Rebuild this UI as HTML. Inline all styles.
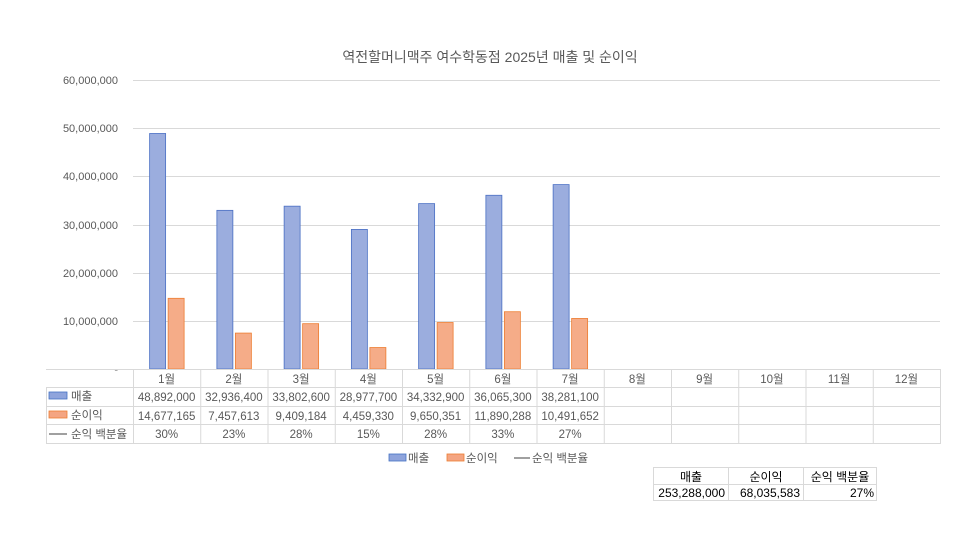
<!DOCTYPE html>
<html><head><meta charset="utf-8"><style>
body{margin:0;background:#fff;}
svg text{font-family:"Liberation Sans","Noto Sans CJK KR",sans-serif;}
</style></head><body>
<svg width="980" height="551" xmlns="http://www.w3.org/2000/svg">
<rect width="980" height="551" fill="#fff"/>
<text x="490" y="62" font-size="14" fill="#595959" text-anchor="middle">역전할머니맥주 여수학동점 2025년 매출 및 순이익</text>
<g stroke="#d9d9d9" stroke-width="1">
<line x1="133" y1="80.5" x2="940" y2="80.5"/>
<line x1="133" y1="128.5" x2="940" y2="128.5"/>
<line x1="133" y1="176.5" x2="940" y2="176.5"/>
<line x1="133" y1="225.5" x2="940" y2="225.5"/>
<line x1="133" y1="273.5" x2="940" y2="273.5"/>
<line x1="133" y1="321.5" x2="940" y2="321.5"/>
</g>
<g font-size="11" fill="#595959" text-anchor="end">
<text x="118" y="84">60,000,000</text>
<text x="118" y="132">50,000,000</text>
<text x="118" y="180">40,000,000</text>
<text x="118" y="229">30,000,000</text>
<text x="118" y="277">20,000,000</text>
<text x="118" y="325">10,000,000</text>
<text x="118" y="373">-</text>
</g>
<g id="bars"></g>
<g id="tbl" stroke="#d9d9d9" stroke-width="1" fill="none"></g>
<g id="txt" font-size="11.5" fill="#595959" text-anchor="middle"></g>
<g font-size="11.5" fill="#595959">
<rect x="49" y="392" width="18" height="7" fill="#8fa4dc" stroke="#4472c4" stroke-width="0.8"/>
<text x="71" y="400">매출</text>
<rect x="49" y="411" width="18" height="7" fill="#f4a582" stroke="#ed7d31" stroke-width="0.8"/>
<text x="71" y="419">순이익</text>
<line x1="49" y1="434" x2="67" y2="434" stroke="#808080" stroke-width="1.5"/>
<text x="71" y="438">순익 백분율</text>
<rect x="389" y="454" width="17" height="7" fill="#8fa4dc" stroke="#4472c4" stroke-width="0.8"/>
<text x="408" y="462">매출</text>
<rect x="447" y="454" width="17" height="7" fill="#f4a582" stroke="#ed7d31" stroke-width="0.8"/>
<text x="466" y="462">순이익</text>
<line x1="514" y1="458" x2="530" y2="458" stroke="#808080" stroke-width="1.5"/>
<text x="532" y="462">순익 백분율</text>
</g>
<g stroke="#d9d9d9" fill="none">
<rect x="653.5" y="467.5" width="223" height="33"/>
<line x1="653" y1="484.5" x2="877" y2="484.5"/>
<line x1="728.5" y1="467" x2="728.5" y2="501"/>
<line x1="803.5" y1="467" x2="803.5" y2="501"/>
</g>
<g font-size="12" fill="#000">
<text x="691" y="481" text-anchor="middle">매출</text>
<text x="766" y="481" text-anchor="middle">순이익</text>
<text x="840" y="481" text-anchor="middle">순익 백분율</text>
<text x="725" y="497" text-anchor="end">253,288,000</text>
<text x="800" y="497" text-anchor="end">68,035,583</text>
<text x="874" y="497" text-anchor="end">27%</text>
</g>
<script>
var s=[48892000,32936400,33802600,28977700,34332900,36065300,38281100];
var p=[14677165,7457613,9409184,4459330,9650351,11890288,10491652];
var pc=["30%","23%","28%","15%","28%","33%","27%"];
var ns="http://www.w3.org/2000/svg";
function el(t,a,par,tx){var e=document.createElementNS(ns,t);for(var k in a)e.setAttribute(k,a[k]);if(tx!==undefined)e.textContent=tx;document.getElementById(par).appendChild(e);}
var x0=133,w=(940-133)/12,base=369,k=48.17/10000000;
function f(n){return n.toLocaleString('en-US');}
for(var i=0;i<7;i++){var c=x0+w*i+w/2;
var h=s[i]*k;el('rect',{x:c-17,y:base-h,width:16,height:h,fill:'#9badde',stroke:'#4a6fc4','stroke-width':0.8},'bars');
h=p[i]*k;el('rect',{x:c+1.5,y:base-h,width:16,height:h,fill:'#f5ac88',stroke:'#ed7d31','stroke-width':0.8},'bars');}
el('line',{x1:46,y1:369.5,x2:940,y2:369.5,stroke:'#d9d9d9'},'tbl');
el('line',{x1:46,y1:387.5,x2:940,y2:387.5},'tbl');
el('line',{x1:46,y1:406.5,x2:940,y2:406.5},'tbl');
el('line',{x1:46,y1:424.5,x2:940,y2:424.5},'tbl');
el('line',{x1:46,y1:443.5,x2:940,y2:443.5},'tbl');
el('line',{x1:46.5,y1:387,x2:46.5,y2:444},'tbl');
for(var i=0;i<=12;i++){el('line',{x1:x0+w*i+0.5,y1:369,x2:x0+w*i+0.5,y2:444},'tbl');}
for(var i=0;i<12;i++){var c=x0+w*i+w/2;el('text',{x:c,y:383},'txt',(i+1)+'월');
if(i<7){el('text',{x:c,y:401},'txt',f(s[i]));el('text',{x:c,y:420},'txt',f(p[i]));el('text',{x:c,y:438},'txt',pc[i]);}}
</script>
</svg>
</body></html>
